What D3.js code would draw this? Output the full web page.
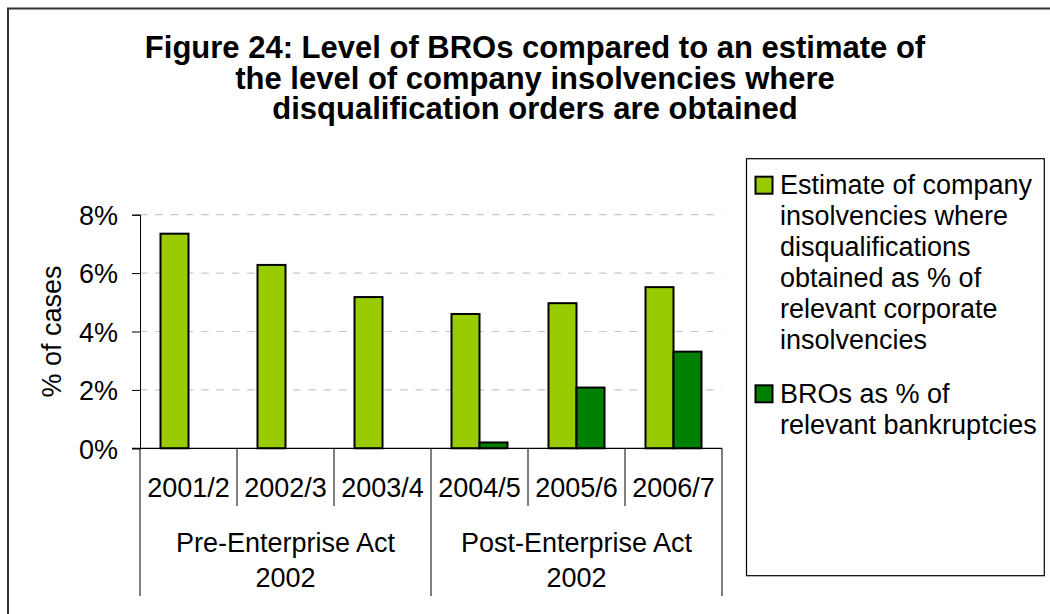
<!DOCTYPE html>
<html>
<head>
<meta charset="utf-8">
<script src="https://cdn.jsdelivr.net/npm/d3@7"></script>
<style>
  html, body { margin: 0; padding: 0; background: #fff; }
  svg { display: block; font-family: "Liberation Sans", Arial, sans-serif; }
</style>
</head>
<body>
<svg id="chart" width="1050" height="614"></svg>
<script>
// Financial years and the policy period each belongs to
const years = ["2001/2", "2002/3", "2003/4", "2004/5", "2005/6", "2006/7"];
const periods = [
  { lines: ["Pre-Enterprise Act", "2002"], from: 0, to: 3 },
  { lines: ["Post-Enterprise Act", "2002"], from: 3, to: 6 }
];

// Series values (% of cases); BROs only exist after the Act
const disqualificationPct = [7.35, 6.28, 5.18, 4.60, 4.97, 5.52];
const broPct = [null, null, null, 0.20, 2.08, 3.31];

const seriesNames = [
  ["Estimate of company", "insolvencies where", "disqualifications", "obtained as % of", "relevant corporate", "insolvencies"],
  ["BROs as % of", "relevant bankruptcies"]
];
const seriesColors = ["#99CC00", "#008000"];

const yTicks = [0, 2, 4, 6, 8];
const titleLines = [
  "Figure 24: Level of BROs compared to an estimate of",
  "the level of company insolvencies where",
  "disqualification orders are obtained"
];

const svg = d3.select("#chart");
const FONT = 27;

// Outer chart frame (runs off the right and bottom edges)
svg.append("rect")
  .attr("x", 8).attr("y", 8.5)
  .attr("width", 1100).attr("height", 700)
  .attr("fill", "none").attr("stroke", "#333").attr("stroke-width", 2);

// Title
svg.append("g").selectAll("text").data(titleLines).join("text")
  .attr("x", 535)
  .attr("y", (d, i) => 58 + i * 30.7)
  .attr("text-anchor", "middle")
  .attr("font-weight", "bold")
  .attr("font-size", 31)
  .text(d => d);

// Scales
const plot = { left: 140, right: 722, top: 214.7, bottom: 448.3 };
const x = d3.scaleBand().domain(years).range([plot.left, plot.right]).paddingInner(0).paddingOuter(0);
const y = d3.scaleLinear().domain([0, 8]).range([plot.bottom, plot.top]);
const barW = 28;
const groupOffset = (x.bandwidth() - 2 * barW) / 2;

// Dashed gridlines
svg.append("g").selectAll("line").data(yTicks.filter(t => t > 0)).join("line")
  .attr("x1", plot.left).attr("x2", plot.right)
  .attr("y1", d => y(d)).attr("y2", d => y(d))
  .attr("stroke", "#c8c8c8").attr("stroke-width", 1.2)
  .attr("stroke-dasharray", "7.5,7.8");

// Y axis
const yAxis = d3.axisLeft(y).tickValues(yTicks).tickFormat(d => d + "%").tickSize(8).tickPadding(14);
const gy = svg.append("g").attr("transform", `translate(${plot.left},0)`).call(yAxis);
gy.select(".domain").attr("stroke", "#000");
gy.selectAll(".tick line").attr("stroke", "#000");
gy.selectAll(".tick text").attr("font-size", FONT).attr("font-family", "Liberation Sans, Arial, sans-serif").attr("fill", "#000").attr("dy", "0.36em");

// Y axis title
svg.append("text")
  .attr("transform", `translate(61,${(plot.top + plot.bottom) / 2}) rotate(-90)`)
  .attr("text-anchor", "middle")
  .attr("font-size", FONT)
  .text("% of cases");

// Bars
const series = [disqualificationPct, broPct];
series.forEach((vals, s) => {
  svg.append("g").selectAll("rect")
    .data(years.map((yr, i) => ({ yr, v: vals[i] })).filter(d => d.v != null))
    .join("rect")
    .attr("x", d => x(d.yr) + groupOffset + s * barW)
    .attr("y", d => y(d.v))
    .attr("width", barW)
    .attr("height", d => y(0) - y(d.v))
    .attr("fill", seriesColors[s])
    .attr("stroke", "#000")
    .attr("stroke-width", 2);
});

// Category axis: baseline, year dividers, period dividers
const axisG = svg.append("g");
axisG.append("line")
  .attr("x1", plot.left - 8).attr("x2", plot.right)
  .attr("y1", plot.bottom).attr("y2", plot.bottom)
  .attr("stroke", "#000").attr("stroke-width", 1.2);

const boundaries = d3.range(years.length + 1);
const periodEdges = new Set(periods.flatMap(p => [p.from, p.to]));
axisG.selectAll("line.div").data(boundaries).join("line")
  .attr("class", "div")
  .attr("x1", i => plot.left + i * x.step())
  .attr("x2", i => plot.left + i * x.step())
  .attr("y1", plot.bottom)
  .attr("y2", i => periodEdges.has(i) ? 596 : 506)
  .attr("stroke", "#000").attr("stroke-width", 1);

axisG.selectAll("text.yr").data(years).join("text")
  .attr("class", "yr")
  .attr("x", d => x(d) + x.bandwidth() / 2)
  .attr("y", 497)
  .attr("text-anchor", "middle")
  .attr("font-size", FONT)
  .text(d => d);

periods.forEach(p => {
  const cx = plot.left + (p.from + p.to) / 2 * x.step();
  axisG.append("g").selectAll("text").data(p.lines).join("text")
    .attr("x", cx)
    .attr("y", (d, i) => 552 + i * 34.5)
    .attr("text-anchor", "middle")
    .attr("font-size", FONT)
    .text(d => d);
});

// Legend
const lg = svg.append("g");
lg.append("rect")
  .attr("x", 746.5).attr("y", 158.7)
  .attr("width", 297.8).attr("height", 417)
  .attr("fill", "#fff").attr("stroke", "#000").attr("stroke-width", 1.2);

const entryTop = [176.7, 385.3];
seriesNames.forEach((lines, s) => {
  lg.append("rect")
    .attr("x", 755.5).attr("y", entryTop[s])
    .attr("width", 17).attr("height", 17)
    .attr("fill", seriesColors[s]).attr("stroke", "#000").attr("stroke-width", 2);
  lg.append("g").selectAll("text").data(lines).join("text")
    .attr("x", 780)
    .attr("y", (d, i) => entryTop[s] + 17.5 + i * 30.9)
    .attr("font-size", FONT)
    .text(d => d);
});
</script>
</body>
</html>
